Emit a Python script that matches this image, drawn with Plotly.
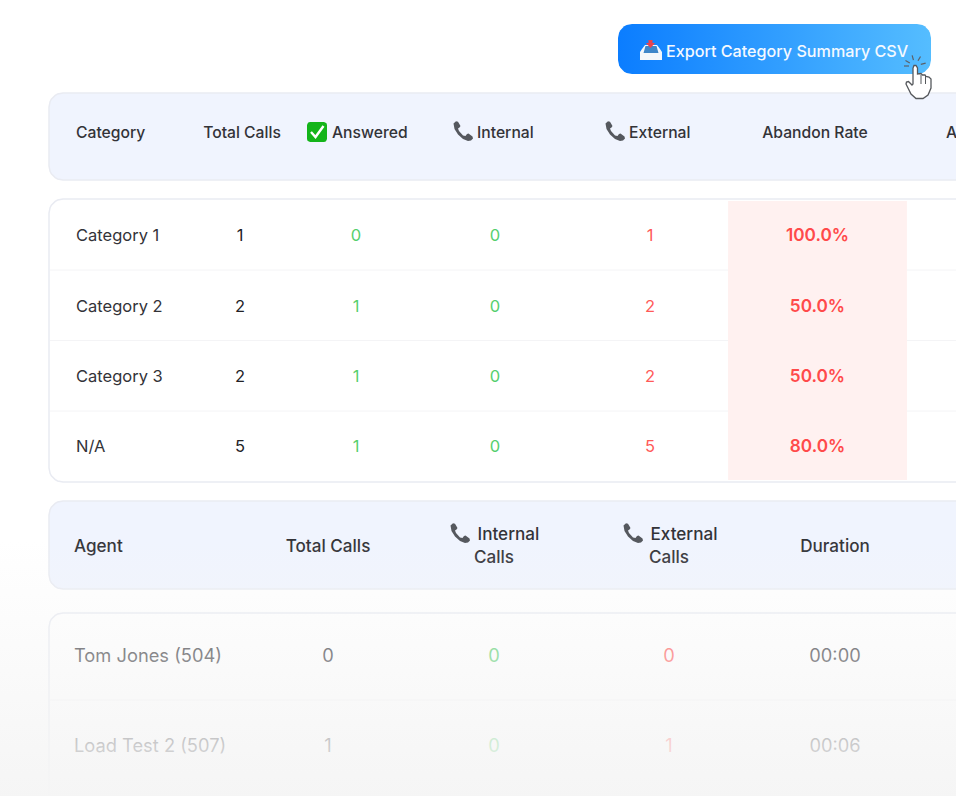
import math
import plotly.graph_objects as go

# ---- table content ----
button_label = "Export Category Summary CSV"
cat_headers = ["Category", "Total Calls", "Answered", "Internal", "External", "Abandon Rate", "A"]
categories = ["Category 1", "Category 2", "Category 3", "N/A"]
cat_total = [1, 2, 2, 5]
cat_answered = [0, 1, 1, 1]
cat_internal = [0, 0, 0, 0]
cat_external = [1, 2, 2, 5]
cat_abandon = ["100.0%", "50.0%", "50.0%", "80.0%"]

agent_headers = ["Agent", "Total Calls", "Duration"]
agents = ["Tom Jones (504)", "Load Test 2 (507)"]
agent_total = [0, 1]
agent_internal = [0, 0]
agent_external = [0, 1]
agent_duration = ["00:00", "00:06"]

# ---- layout constants ----
W, H = 956, 796
FONT = "Inter"
DARK, GREEN, RED = "#333338", "#57cf6e", "#ff5a58"
HEAD_FILL, EDGE = "#f0f4fe", "#e9ebf2"
CAT_X = [76, 240, 356, 495, 650, 817.5]
CAT_Y = [237, 307.5, 378, 448]
AGENT_X = [74, 328, 494, 669, 835]
AGENT_Y = [657, 747]
HEAD1_Y = 134
HEAD_S, BODY_S, HEAD2_S, ROW2_S = 15.7, 16.5, 17.1, 18.3

fig = go.Figure()


def rrect(x0, y0, x1, y1, r):
    xs, ys = [], []
    for cx, cy, a0 in [(x1 - r, y0 + r, -90), (x1 - r, y1 - r, 0), (x0 + r, y1 - r, 90), (x0 + r, y0 + r, 180)]:
        for k in range(9):
            a = math.radians(a0 + k * 90 / 8)
            xs.append(cx + r * math.cos(a))
            ys.append(cy + r * math.sin(a))
    return xs + xs[:1], ys + ys[:1]


def poly(xs, ys, fill=None, line=None, width=1.0, gradient=None):
    kw = dict(x=xs, y=ys, mode="lines", hoverinfo="skip", showlegend=False,
              line=dict(color=line or "rgba(0,0,0,0)", width=width if line else 0))
    if fill or gradient:
        kw["fill"] = "toself"
    if fill:
        kw["fillcolor"] = fill
    if gradient:
        kw["fillgradient"] = gradient
    fig.add_trace(go.Scatter(**kw))


def stroke(xs, ys, color, width=1.0):
    fig.add_trace(go.Scatter(x=xs, y=ys, mode="lines", hoverinfo="skip", showlegend=False,
                             line=dict(color=color, width=width)))


def text(xs, ys, labels, size=15, color=DARK, weight=400, pos="middle center"):
    fig.add_trace(go.Scatter(x=xs, y=ys, text=labels, mode="text", textposition=pos, hoverinfo="skip",
                             showlegend=False, cliponaxis=True,
                             textfont=dict(family=FONT, size=size, color=color, weight=weight)))


PHONE = [(0.5, 2.5), (3, 0.3), (5, 0.7), (7.5, 5), (6.5, 6.5), (5, 7.5), (6, 10), (10, 14.5), (12.5, 15), (14, 13),
         (15.5, 12.5), (19.5, 15.5), (20, 17.5), (18, 19.5), (15, 20), (10, 18), (5, 13.5), (1.5, 8), (0.5, 2.5)]


def phone(x, y):
    poly([x + p[0] for p in PHONE], [y + p[1] for p in PHONE], fill="#55585e")


# ---- button ----
bx, by = rrect(618, 24, 931, 74, 14)
poly(bx, by, gradient=dict(type="horizontal", colorscale=[[0, "#0b7dff"], [1, "#55bdff"]]))
# inbox icon
poly([645, 657, 660, 662, 662, 640, 640, 642], [45, 45, 49, 52, 60, 60, 52, 49], fill="#f4f7fb")
poly([645.5, 656.5, 658.5, 643.5], [46, 46, 53, 53], fill="#3f86c9")
poly([648.5, 652.5, 652.5, 655, 650.5, 646, 648.5], [40, 40, 43, 43, 48, 43, 43], fill="#e8434e")
text([666], [53], [button_label], size=16.15, color="#f4f9ff", weight=500, pos="middle right")

# ---- category header ----
hx, hy = rrect(49, 93, 1010, 180, 14)
poly(hx, hy, fill=HEAD_FILL, line=EDGE, width=1.5)
text([76], [HEAD1_Y], [cat_headers[0]], HEAD_S, weight=500, pos="middle right")
text([242], [HEAD1_Y], [cat_headers[1]], HEAD_S, weight=500)
cx_, cy_ = rrect(307, 122, 327, 142, 3)
poly(cx_, cy_, fill="#14b41a")
stroke([311, 315.5, 323.5], [132, 137, 126], "#ffffff", 2.4)
text([332], [HEAD1_Y], [cat_headers[2]], HEAD_S, weight=500, pos="middle right")
phone(453, 121)
text([477], [HEAD1_Y], [cat_headers[3]], HEAD_S, weight=500, pos="middle right")
phone(605, 121)
text([629], [HEAD1_Y], [cat_headers[4]], HEAD_S, weight=500, pos="middle right")
text([815], [HEAD1_Y], [cat_headers[5]], HEAD_S, weight=500)
text([946], [HEAD1_Y], [cat_headers[6]], HEAD_S, weight=500, pos="middle right")

# ---- category table ----
tx, ty = rrect(49, 199, 1010, 482, 14)
poly(tx, ty, fill="#ffffff", line=EDGE, width=1.5)
ax, ay = rrect(728, 201, 907, 480, 0.1)
poly(ax, ay, fill="#fff1f0")
for yy in [270, 340.5, 411]:
    stroke([50, 728], [yy, yy], "#f4f4f6", 1)
    stroke([907, 960], [yy, yy], "#f4f4f6", 1)
text([CAT_X[0]] * 4, CAT_Y, categories, BODY_S, weight=400, pos="middle right")
text([CAT_X[1]] * 4, CAT_Y, [str(v) for v in cat_total], BODY_S, "#222226")
text([CAT_X[2]] * 4, CAT_Y, [str(v) for v in cat_answered], BODY_S, GREEN)
text([CAT_X[3]] * 4, CAT_Y, [str(v) for v in cat_internal], BODY_S, GREEN)
text([CAT_X[4]] * 4, CAT_Y, [str(v) for v in cat_external], BODY_S, RED)
text([CAT_X[5]] * 4, CAT_Y, cat_abandon, 17.2, "#ff4a4a", weight=600)

# ---- agent header ----
hx, hy = rrect(49, 501, 1010, 589, 14)
poly(hx, hy, fill=HEAD_FILL, line=EDGE, width=1.5)
text([74], [548], [agent_headers[0]], HEAD2_S, weight=500, pos="middle right")
text([328], [548], [agent_headers[1]], HEAD2_S, weight=500)
phone(450, 523)
text([477.5], [536], ["Internal"], HEAD2_S, weight=500, pos="middle right")
text([494], [559], ["Calls"], HEAD2_S, weight=500)
phone(623, 523)
text([650.5], [536], ["External"], HEAD2_S, weight=500, pos="middle right")
text([669], [559], ["Calls"], HEAD2_S, weight=500)
text([835], [548], [agent_headers[2]], HEAD2_S, weight=500)

# ---- agent table ----
tx, ty = rrect(49, 613, 1010, 796 + 20, 14)
poly(tx, ty, fill="#ffffff", line=EDGE, width=1.5)
stroke([50, 960], [700, 700], "#f2f2f4", 1)
text([AGENT_X[0]] * 2, AGENT_Y, agents, ROW2_S, weight=400, pos="middle right")
text([AGENT_X[1]] * 2, AGENT_Y, [str(v) for v in agent_total], ROW2_S, "#333338")
text([AGENT_X[2]] * 2, AGENT_Y, [str(v) for v in agent_internal], ROW2_S, GREEN)
text([AGENT_X[3]] * 2, AGENT_Y, [str(v) for v in agent_external], ROW2_S, RED)
text([AGENT_X[4]] * 2, AGENT_Y, agent_duration, ROW2_S, "#333338")

# ---- fade over the lower part of the page ----
poly([0, W, W, 0, 0], [540, 540, H, H, 540],
     gradient=dict(type="vertical",
                   colorscale=[[0, "rgba(245,245,245,0.98)"], [1, "rgba(245,245,245,0)"]]))

# ---- hand cursor ----
hand = [(913, 68), (914, 65.5), (916, 65.5), (917.5, 68), (917.5, 74), (921, 73.5), (922.5, 75), (925, 75), (926, 76.5),
        (929, 77), (931, 79), (931, 88), (928, 95), (923, 98.5), (916, 98.5), (911, 94), (906, 84), (906.5, 82),
        (908.5, 81.5), (912, 85), (913, 84), (913, 68)]
poly([p[0] for p in hand], [p[1] for p in hand], fill="#ffffff", line="#55585c", width=1.3)
for xa in (921, 925.5):
    stroke([xa, xa], [75, 84], "#55585c", 1)
for deg in (-150, -105, -60, -15, 180):
    a = math.radians(deg)
    stroke([915 + 6 * math.cos(a), 915 + 11 * math.cos(a)], [66 + 6 * math.sin(a), 66 + 11 * math.sin(a)],
           "#5b6068", 1.2)

fig.update_layout(
    width=W, height=H, margin=dict(l=0, r=0, t=0, b=0), paper_bgcolor="#ffffff", plot_bgcolor="#ffffff",
    xaxis=dict(range=[0, W], visible=False, fixedrange=True),
    yaxis=dict(range=[H, 0], visible=False, fixedrange=True),
    showlegend=False, hovermode=False,
)
fig.write_html("out.html", config={"displayModeBar": False},
               post_script="document.body.style.margin='0';document.body.style.overflow='hidden';")
